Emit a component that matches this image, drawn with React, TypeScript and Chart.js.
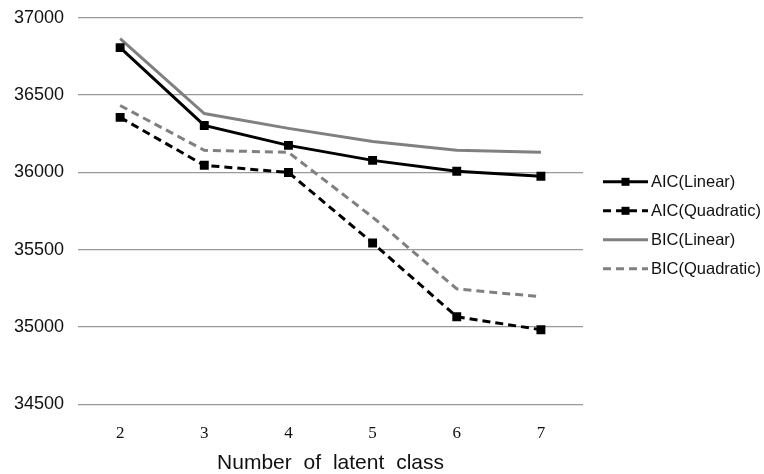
import React, { useEffect, useRef } from "react";
import { Chart, registerables } from "chart.js";

Chart.register(...registerables);

const categories = ["2", "3", "4", "5", "6", "7"];
const aicLinear = [36807, 36304, 36175, 36078, 36008, 35975];
const aicQuadratic = [36356, 36046, 36000, 35544, 35067, 34983];
const bicLinear = [36865, 36381, 36285, 36200, 36143, 36130];
const bicQuadratic = [36433, 36143, 36130, 35711, 35247, 35196];
const seriesNames = ["AIC(Linear)", "AIC(Quadratic)", "BIC(Linear)", "BIC(Quadratic)"];
const yMin = 34500;
const yMax = 37000;
const yStep = 500;
const xTitle = "Number of latent class";

const spacingPlugin = {
  id: "wordSpacing",
  beforeDraw(chart: any) {
    (chart.ctx as any).wordSpacing = "6px";
  },
};

const legendPlugin = {
  id: "sideLegend",
  afterDraw(chart: any) {
    const ctx = chart.ctx;
    const area = chart.chartArea;
    const x0 = area.right + 20;
    const lineLen = 45;
    const startY = area.top + 164;
    const gap = 29;
    ctx.save();
    chart.data.datasets.forEach((ds: any, i: number) => {
      const y = startY + i * gap;
      ctx.strokeStyle = ds.borderColor;
      ctx.lineWidth = ds.borderWidth;
      ctx.setLineDash(ds.borderDash || []);
      ctx.beginPath();
      ctx.moveTo(x0, y);
      ctx.lineTo(x0 + lineLen, y);
      ctx.stroke();
      ctx.setLineDash([]);
      if (ds.pointRadius > 0) {
        ctx.fillStyle = ds.pointBackgroundColor;
        ctx.fillRect(x0 + lineLen / 2 - 4, y - 4, 8, 8);
      }
      ctx.fillStyle = "#111";
      ctx.font = "16.5px 'Liberation Sans', Arial, sans-serif";
      ctx.textBaseline = "middle";
      ctx.textAlign = "left";
      ctx.fillText(ds.label, x0 + lineLen + 3, y + 1);
    });
    ctx.restore();
  },
};

export default function App() {
  const ref = useRef<HTMLCanvasElement>(null);
  useEffect(() => {
    if (!ref.current) return;
    const chart = new Chart(ref.current, {
      type: "line",
      data: {
        labels: categories,
        datasets: [
          {
            label: seriesNames[0],
            data: aicLinear,
            borderColor: "#000",
            borderWidth: 3,
            pointStyle: "rect",
            pointRadius: 6.3,
            pointBackgroundColor: "#000",
            pointBorderColor: "#000",
            pointBorderWidth: 0,
          },
          {
            label: seriesNames[1],
            data: aicQuadratic,
            borderColor: "#000",
            borderWidth: 3,
            borderDash: [8, 5],
            pointStyle: "rect",
            pointRadius: 6.3,
            pointBackgroundColor: "#000",
            pointBorderColor: "#000",
            pointBorderWidth: 0,
          },
          {
            label: seriesNames[2],
            data: bicLinear,
            borderColor: "#808080",
            borderWidth: 3,
            pointRadius: 0,
            pointBackgroundColor: "#808080",
          },
          {
            label: seriesNames[3],
            data: bicQuadratic,
            borderColor: "#808080",
            borderWidth: 3,
            borderDash: [8, 5],
            pointRadius: 0,
            pointBackgroundColor: "#808080",
          },
        ],
      },
      options: {
        animation: false,
        responsive: true,
        maintainAspectRatio: false,
        layout: { padding: { top: 1, right: 181, left: 0, bottom: 0 } },
        plugins: {
          legend: { display: false },
          tooltip: { enabled: false },
        },
        scales: {
          x: {
            offset: true,
            grid: { display: false },
            border: { display: false },
            ticks: {
              color: "#111",
              font: { family: "'Liberation Serif', 'Times New Roman', serif", size: 17 },
              padding: 11,
            },
            title: {
              display: true,
              text: xTitle,
              color: "#111",
              font: { family: "'Liberation Sans', Arial, sans-serif", size: 21 },
              padding: { top: -4, bottom: -1 },
            },
          },
          y: {
            min: yMin,
            max: yMax,
            grid: { color: "#999", lineWidth: 1.3, drawTicks: false },
            border: { display: false },
            ticks: {
              stepSize: yStep,
              color: "#111",
              font: { family: "'Liberation Sans', Arial, sans-serif", size: 18 },
              padding: 14,
              callback: (v: any) => String(v),
            },
          },
        },
      },
      plugins: [spacingPlugin, legendPlugin],
    });
    return () => chart.destroy();
  }, []);
  return (
    <div style={{ position: "fixed", left: 0, top: -7, width: 764, height: 482, background: "#fff" }}>
      <canvas ref={ref} />
    </div>
  );
}
